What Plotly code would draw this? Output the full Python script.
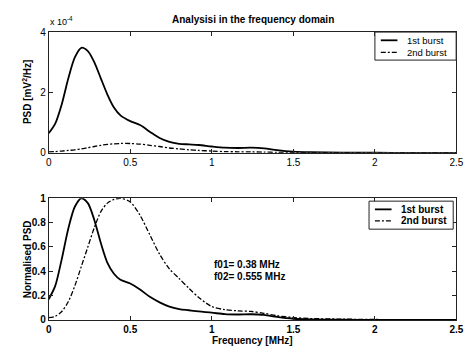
import plotly.graph_objects as go

# ---------------- data ----------------
freq = [0, 0.04, 0.08, 0.12, 0.16, 0.2, 0.24, 0.28, 0.32, 0.36,
        0.40, 0.44, 0.5, 0.56, 0.62, 0.68, 0.74, 0.8, 0.86, 0.92,
        1.0, 1.08, 1.16, 1.24, 1.32, 1.4, 1.5, 1.6, 1.8, 2.0,
        2.2, 2.5]

# PSD in units of 1e-4 mV^2/Hz
burst1_psd = [0.65, 0.97, 1.61, 2.46, 3.16, 3.48, 3.37, 3.0, 2.46, 1.93,
              1.50, 1.24, 1.05, 0.92, 0.70, 0.49, 0.36, 0.30, 0.28, 0.26,
              0.21, 0.17, 0.16, 0.17, 0.15, 0.09, 0.04, 0.02, 0.007, 0.003,
              0.001, 0]
burst2_psd = [0.03, 0.04, 0.06, 0.08, 0.10, 0.13, 0.17, 0.21, 0.25, 0.28,
              0.30, 0.31, 0.31, 0.29, 0.25, 0.21, 0.16, 0.13, 0.10, 0.08,
              0.06, 0.04, 0.035, 0.03, 0.025, 0.015, 0.01, 0.005, 0.003, 0.002,
              0.001, 0]

burst1_norm = [0.17, 0.28, 0.5, 0.75, 0.93, 1.0, 0.96, 0.82, 0.63, 0.47,
               0.38, 0.33, 0.30, 0.25, 0.19, 0.145, 0.11, 0.09, 0.08, 0.07,
               0.06, 0.048, 0.045, 0.047, 0.042, 0.025, 0.01, 0.005, 0.002, 0.001,
               0, 0]
burst2_norm = [0.02, 0.03, 0.07, 0.15, 0.28, 0.44, 0.6, 0.76, 0.89, 0.96,
               0.99, 1.0, 0.97, 0.86, 0.70, 0.54, 0.42, 0.34, 0.26, 0.185,
               0.11, 0.085, 0.075, 0.07, 0.055, 0.035, 0.02, 0.012, 0.007, 0.004,
               0.002, 0]

series_names = ["1st burst", "2nd burst"]
x_ticks = [0, 0.5, 1, 1.5, 2, 2.5]
x_tick_labels = ["0", "0.5", "1", "1.5", "2", "2.5"]
top_y_ticks = [0, 2, 4]
top_y_tick_labels = ["0", "2", "4"]
bot_y_ticks = [0, 0.2, 0.4, 0.6, 0.8, 1]
bot_y_tick_labels = ["0", "0.2", "0.4", "0.6", "0.8", "1"]

title_text = "Analysisi in the frequency domain"
top_ylabel = "PSD [mV<sup>2</sup>/Hz]"
bot_ylabel = "Normalised PSD"
xlabel = "Frequency [MHz]"
note_lines = ["f01= 0.38 MHz", "f02= 0.555 MHz"]

# ---------------- layout helpers ----------------
W, H = 470, 354
FONT = "Liberation Sans, Arial, Helvetica, sans-serif"
FRAME = "#222222"
DASHDOT = "5px,2px,2px,2px"


def px(x):
    return x / W


def py(y):
    return 1 - y / H


X0, X1 = 46.7, 463.3
TOP_Y0, TOP_Y1 = 27, 152
BOT_Y0, BOT_Y1 = 199, 325

fig = go.Figure()

line_solid = dict(color="black", width=1.8, shape="spline", smoothing=0.8)
line_dd = dict(color="black", width=1.3, dash=DASHDOT, shape="spline", smoothing=0.8)

fig.add_trace(go.Scatter(x=freq, y=burst1_psd, mode="lines", line=line_solid,
                         name=series_names[0], xaxis="x", yaxis="y", showlegend=False))
fig.add_trace(go.Scatter(x=freq, y=burst2_psd, mode="lines", line=line_dd,
                         name=series_names[1], xaxis="x", yaxis="y", showlegend=False))
fig.add_trace(go.Scatter(x=freq, y=burst1_norm, mode="lines", line=line_solid,
                         name=series_names[0], xaxis="x2", yaxis="y2", showlegend=False))
fig.add_trace(go.Scatter(x=freq, y=burst2_norm, mode="lines", line=line_dd,
                         name=series_names[1], xaxis="x2", yaxis="y2", showlegend=False))

axis_common = dict(showgrid=False, zeroline=False, showline=True, linecolor=FRAME,
                   linewidth=1, mirror="ticks", ticks="inside", ticklen=4,
                   tickcolor=FRAME, tickwidth=1, ticklabeloverflow="allow")

normal_font = dict(family=FONT, size=10, color="black")
bold_font = dict(family=FONT, size=10, color="black", weight="bold")

fig.update_layout(
    width=W, height=H,
    margin=dict(l=0, r=0, t=0, b=0),
    paper_bgcolor="white", plot_bgcolor="white",
    showlegend=False,
    xaxis=dict(domain=[px(X0), px(X1)], anchor="y", range=[0, 2.5],
               tickvals=x_ticks, ticktext=x_tick_labels, tickfont=normal_font,
               **axis_common),
    yaxis=dict(domain=[py(TOP_Y1), py(TOP_Y0)], anchor="x", range=[0, 4],
               tickvals=top_y_ticks, ticktext=top_y_tick_labels, tickfont=normal_font,
               **axis_common),
    xaxis2=dict(domain=[px(X0), px(X1)], anchor="y2", range=[0, 2.5],
                tickvals=x_ticks, ticktext=x_tick_labels, tickfont=bold_font,
                **axis_common),
    yaxis2=dict(domain=[py(BOT_Y1), py(BOT_Y0)], anchor="x2", range=[0, 1],
                tickvals=bot_y_ticks, ticktext=bot_y_tick_labels, tickfont=bold_font,
                **axis_common),
)

annotations = [
    dict(text="<b>" + title_text + "</b>", x=px((X0 + X1) / 2), y=py(14),
         font=dict(family=FONT, size=10, color="black")),
    dict(text="x 10<sup>-4</sup>", x=px(46), y=py(16), xanchor="left",
         font=dict(family=FONT, size=9, color="black")),
    dict(text="<b>" + top_ylabel + "</b>", x=px(17), y=py((TOP_Y0 + TOP_Y1) / 2),
         textangle=-90, font=dict(family=FONT, size=10, color="black")),
    dict(text="<b>" + bot_ylabel + "</b>", x=px(17), y=py((BOT_Y0 + BOT_Y1) / 2),
         textangle=-90, font=dict(family=FONT, size=10, color="black")),
    dict(text="<b>" + xlabel + "</b>", x=px((X0 + X1) / 2), y=py(346),
         font=dict(family=FONT, size=10, color="black")),
    dict(text="<b>" + note_lines[0] + "</b>", x=px(214), y=py(268), xanchor="left",
         font=dict(family=FONT, size=10, color="black")),
    dict(text="<b>" + note_lines[1] + "</b>", x=px(214), y=py(280), xanchor="left",
         font=dict(family=FONT, size=10, color="black")),
]

shapes = []


def add_legend(x0, y0, x1, y1, line_x0, line_x1, row_y, text_x, bold):
    shapes.append(dict(type="rect", xref="paper", yref="paper",
                       x0=px(x0), x1=px(x1), y0=py(y1), y1=py(y0),
                       line=dict(color=FRAME, width=1), fillcolor="white", layer="above"))
    dashes = ["solid", DASHDOT]
    widths = [1.8, 1.3]
    for i, name in enumerate(series_names):
        shapes.append(dict(type="line", xref="paper", yref="paper",
                           x0=px(line_x0), x1=px(line_x1), y0=py(row_y[i]), y1=py(row_y[i]),
                           line=dict(color="black", width=widths[i], dash=dashes[i]),
                           layer="above"))
        txt = "<b>" + name + "</b>" if bold else name
        annotations.append(dict(text=txt, x=px(text_x), y=py(row_y[i]), xanchor="left",
                                font=dict(family=FONT, size=10 if bold else 9.5, color="black")))


add_legend(380, 27, 463, 56, 386, 403, [35.5, 48], 411, False)
add_legend(374, 202, 460, 231, 380, 397, [210.5, 222.5], 405, True)

for a in annotations:
    a.setdefault("xref", "paper")
    a.setdefault("yref", "paper")
    a.setdefault("showarrow", False)
    a.setdefault("yanchor", "middle")

fig.update_layout(annotations=annotations, shapes=shapes)

fig.write_html("out.html")
